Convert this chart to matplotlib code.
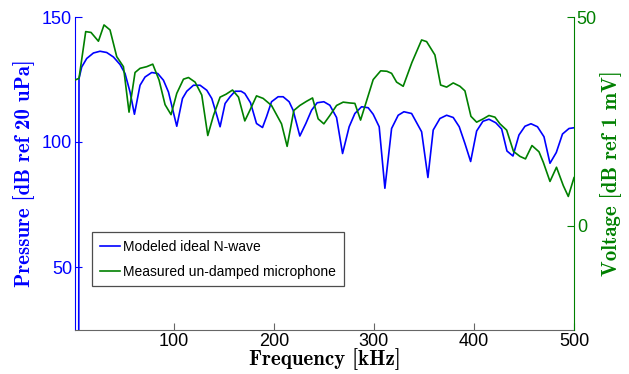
import matplotlib
matplotlib.use("Agg")
import matplotlib.pyplot as plt

# Modeled ideal N-wave (Pressure, dB ref 20 uPa)
model_freq = [5.0, 5.3, 8.0, 13.0, 19.7, 26.3, 33.0, 39.7, 46.3, 51.3, 56.3, 60.7, 66.3, 71.3,
              78.0, 84.0, 89.7, 94.7, 98.7, 103.0, 108.7, 113.0, 119.7, 126.3, 133.0, 138.0,
              143.0, 146.3, 151.3, 156.3, 161.3, 167.3, 171.0, 176.7, 182.7, 188.7, 192.7,
              197.7, 204.3, 209.3, 215.3, 219.3, 226.0, 232.0, 237.7, 243.3, 250.0, 256.0,
              262.7, 268.7, 275.3, 281.0, 287.7, 294.3, 299.3, 305.3, 311.0, 317.7, 324.3,
              330.0, 337.7, 347.7, 354.0, 359.3, 366.0, 372.7, 379.3, 385.3, 391.0, 396.7,
              402.7, 409.0, 415.0, 421.8, 427.7, 433.0, 439.0, 445.0, 451.0, 457.0, 463.5,
              470.0, 476.0, 482.3, 488.5, 495.0, 500.0]
model_pressure = [0.0, 125.4, 130.0, 133.4, 135.6, 136.3, 135.8, 134.0, 131.0, 127.4, 120.0, 111.1,
                  122.7, 126.0, 127.8, 127.4, 124.7, 120.0, 113.4, 106.3, 117.4, 120.3, 122.7,
                  122.7, 120.7, 117.4, 110.7, 106.1, 115.4, 118.1, 120.3, 120.3, 119.4, 115.7,
                  107.4, 105.8, 110.1, 116.1, 118.1, 118.1, 116.1, 112.7, 102.4, 107.4, 112.7,
                  115.7, 116.1, 114.7, 109.8, 95.4, 106.1, 111.4, 114.1, 113.7, 111.1, 106.1,
                  81.5, 105.4, 110.7, 112.1, 111.4, 104.1, 85.8, 104.8, 109.4, 110.7, 109.8,
                  106.1, 99.4, 92.2, 104.4, 108.3, 109.1, 107.7, 105.2, 96.4, 94.4, 102.8,
                  106.3, 107.3, 106.1, 102.1, 91.5, 95.8, 103.2, 105.4, 105.7]

# Measured un-damped microphone (Voltage, dB ref 1 mV)
meas_freq = [1.3, 5.3, 12.0, 17.3, 24.7, 30.3, 36.3, 43.0, 49.7, 55.3, 61.3, 66.3, 73.0, 79.0,
             85.3, 91.3, 97.3, 103.0, 109.7, 114.7, 121.3, 128.0, 134.0, 139.7, 146.3, 152.3,
             158.7, 164.7, 171.0, 176.0, 182.7, 189.3, 197.7, 207.7, 213.3, 220.0, 226.0,
             232.7, 238.7, 244.3, 250.0, 256.0, 262.7, 269.3, 276.0, 281.0, 286.7, 292.7,
             299.3, 306.8, 313.0, 317.7, 322.7, 329.3, 338.0, 347.7, 352.7, 361.0, 366.7,
             372.7, 379.3, 386.0, 391.0, 397.0, 402.7, 409.3, 415.0, 421.0, 426.0, 432.7,
             439.5, 446.0, 451.5, 458.0, 465.0, 469.3, 476.0, 482.5, 489.3, 494.3, 500.0]
meas_voltage = [34.9, 35.3, 46.5, 46.3, 44.2, 48.1, 46.9, 40.5, 38.1, 27.2, 36.7, 37.7, 38.1, 38.7,
                34.9, 29.0, 26.6, 31.7, 35.1, 35.5, 34.4, 31.3, 21.6, 26.4, 30.8, 31.5, 32.5,
                30.8, 25.1, 27.6, 31.1, 30.5, 28.8, 24.4, 19.0, 27.6, 28.8, 29.8, 30.6, 25.6,
                24.4, 26.4, 28.8, 29.6, 29.4, 29.3, 25.3, 29.9, 35.0, 37.1, 37.0, 36.5, 34.4,
                33.4, 39.1, 44.5, 44.1, 40.9, 33.7, 33.2, 34.2, 33.4, 32.3, 26.2, 24.8, 25.6,
                26.4, 26.0, 24.4, 22.9, 17.8, 16.6, 16.0, 19.2, 17.7, 15.2, 10.6, 14.0, 9.6,
                7.0, 11.5]

labels = ["Modeled ideal N-wave", "Measured un-damped microphone"]
x_ticks = [100, 200, 300, 400, 500]
left_ticks = [50, 100, 150]
right_ticks = [0, 50]

BLUE = (0, 0, 1)
GREEN = (0, 0.5, 0)

plt.rcParams['font.family'] = ['Liberation Sans', 'DejaVu Sans']

fig = plt.figure(figsize=(6.29, 3.74), dpi=100)
ax1 = fig.add_axes([75/629, 1 - 330/374, (574-75)/629, (330-17)/374])
ax2 = ax1.twinx()

l1, = ax1.plot(model_freq, model_pressure, color=BLUE, lw=1.2)
l2, = ax2.plot(meas_freq, meas_voltage, color=GREEN, lw=1.2)

ax1.set_xlim(1.3, 500)
ax1.set_ylim(24.8, 150)
ax2.set_ylim(-25, 50)

ax1.set_xticks(x_ticks)
ax1.set_yticks(left_ticks)
ax2.set_yticks(right_ticks)

for ax in (ax1, ax2):
    ax.spines['top'].set_visible(False)
ax1.spines['right'].set_visible(False)
ax2.spines['left'].set_visible(False)
ax2.spines['bottom'].set_visible(False)
ax1.spines['left'].set_color(BLUE)
ax2.spines['right'].set_color(GREEN)
ax1.spines['bottom'].set_color('0.4')

ax1.tick_params(axis='x', direction='in', length=5, colors='0.4', labelcolor='black', labelsize=13, pad=2)
ax1.tick_params(axis='y', direction='in', length=5, colors=BLUE, labelsize=13, pad=2)
ax2.tick_params(axis='y', direction='in', length=5, colors=GREEN, labelsize=13, pad=2)

lab_font = dict(family='cmb10', size=15)
ax1.set_xlabel("Frequency [kHz]", fontdict=lab_font, labelpad=-1)
ax1.set_ylabel("Pressure [dB ref 20 uPa]", fontdict=lab_font, color=BLUE, labelpad=5)
ax2.set_ylabel("Voltage [dB ref 1 mV]", fontdict=lab_font, color=GREEN, labelpad=2)

leg = ax2.legend([l1, l2], labels, loc='lower left', bbox_to_anchor=(0.034, 0.139),
                 prop={'family': 'Liberation Sans', 'size': 10.0},
                 handlelength=1.5, handletextpad=0.2, labelspacing=0.8,
                 borderpad=0.55, borderaxespad=0, fancybox=False, framealpha=1,
                 edgecolor='0.3')
leg.get_frame().set_linewidth(0.9)

fig.savefig("out.png", dpi=100)
